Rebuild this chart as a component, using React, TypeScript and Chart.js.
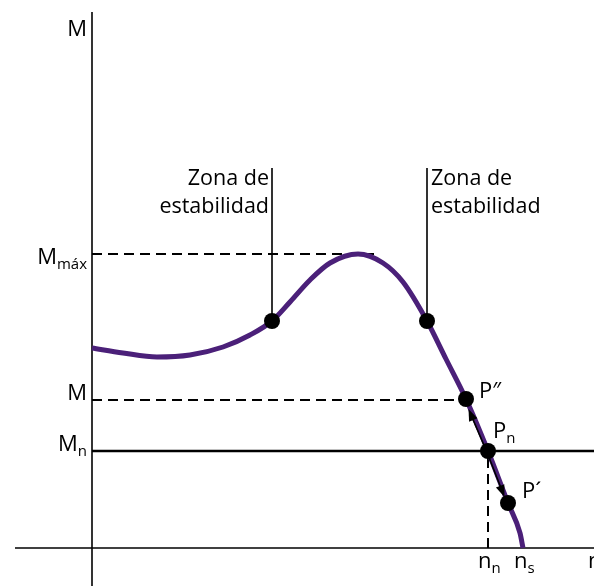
import React, { useEffect, useRef } from "react";
import { Chart, registerables } from "chart.js";

Chart.register(...registerables);

// Torque–speed curve (x = speed, y = torque), in chart units
const curveX = [0, 31, 65, 98, 131, 158, 180, 198, 218, 238, 266, 291, 311, 335, 354, 374, 396, 416, 428, 431];
const curveY = [200, 195, 191, 193, 201, 213, 227, 246, 268, 285, 294, 285, 266, 227, 189, 149, 97, 45, 15, 0];

// Reference levels
const torqueMax = 294;
const torqueM = 148;
const torqueN = 97;
const speedN = 396;
const speedS = 431;
const speedMaxLine = 288;
const axisTop = 536;
const axisLeft = -77;
const axisRight = 502;

// Marked points
const pointX = [180, 335, 374, 396, 416];
const pointY = [227, 227, 149, 97, 45];

// Stability zone marker lines
const zoneX = [180, 335];
const zoneTop = 380;

// Arrow tips (from Pn)
const arrowTipX = [378, 414];
const arrowTipY = [139, 51];

const FONT = '"Open Sans", "Noto Sans", sans-serif';
const PURPLE = "#4b2079";

export default function App() {
  const ref = useRef<HTMLCanvasElement | null>(null);

  useEffect(() => {
    const canvas = ref.current;
    if (!canvas) return;

    const seg = (x1: number, y1: number, x2: number, y2: number, extra: any = {}) => ({
      data: [
        { x: x1, y: y1 },
        { x: x2, y: y2 },
      ],
      borderColor: "#000",
      borderWidth: 1.6,
      pointRadius: 0,
      tension: 0,
      order: 3,
      ...extra,
    });

    const dash = [10, 6];

    const labelsPlugin = {
      id: "labels",
      afterDatasetsDraw(chart: any) {
        const ctx = chart.ctx as CanvasRenderingContext2D;
        const xs = chart.scales.x;
        const ys = chart.scales.y;
        const px = (v: number) => xs.getPixelForValue(v);
        const py = (v: number) => ys.getPixelForValue(v);

        // arrows from Pn
        const ox = px(pointX[3]) - 1.5;
        const oy = py(pointY[3]);
        ctx.save();
        ctx.strokeStyle = "#000";
        ctx.fillStyle = "#000";
        ctx.lineWidth = 1.6;
        for (let i = 0; i < arrowTipX.length; i++) {
          const tx = px(arrowTipX[i]) - 1.5;
          const ty = py(arrowTipY[i]);
          const ang = Math.atan2(ty - oy, tx - ox);
          const L = 12;
          const W = 4.5;
          ctx.beginPath();
          ctx.moveTo(ox, oy);
          ctx.lineTo(tx - Math.cos(ang) * L * 0.6, ty - Math.sin(ang) * L * 0.6);
          ctx.stroke();
          ctx.beginPath();
          ctx.moveTo(tx, ty);
          ctx.lineTo(
            tx - Math.cos(ang) * L - Math.sin(ang) * W,
            ty - Math.sin(ang) * L + Math.cos(ang) * W
          );
          ctx.lineTo(
            tx - Math.cos(ang) * L + Math.sin(ang) * W,
            ty - Math.sin(ang) * L - Math.cos(ang) * W
          );
          ctx.closePath();
          ctx.fill();
        }

        ctx.fillStyle = "#000";
        ctx.textBaseline = "alphabetic";

        const mainF = `22px ${FONT}`;
        const subF = `15px ${FONT}`;

        const drawSub = (main: string, sub: string, x: number, y: number, align: "left" | "right") => {
          ctx.font = mainF;
          const wm = ctx.measureText(main).width;
          ctx.font = subF;
          const ws = sub ? ctx.measureText(sub).width : 0;
          const left = align === "right" ? x - wm - ws : x;
          ctx.textAlign = "left";
          ctx.font = mainF;
          ctx.fillText(main, left, y);
          if (sub) {
            ctx.font = subF;
            ctx.fillText(sub, left + wm, y + 5);
          }
        };

        const yLabelX = px(0) - 5;
        drawSub("M", "", yLabelX, py(axisTop) + 24, "right");
        drawSub("M", "máx", yLabelX, py(torqueMax) + 10, "right");
        drawSub("M", "", yLabelX, py(torqueM), "right");
        drawSub("M", "n", yLabelX, py(torqueN), "right");

        const xLabelY = py(0) + 20;
        drawSub("n", "n", px(speedN) - 10, xLabelY, "left");
        drawSub("n", "s", px(speedS) - 9, xLabelY, "left");
        drawSub("n", "", px(axisRight) - 6, xLabelY, "left");

        drawSub("P″", "", px(pointX[2]) + 13, py(pointY[2]) - 1, "left");
        drawSub("P", "n", px(pointX[3]) + 5, py(pointY[3]) - 13, "left");
        drawSub("P´", "", px(pointX[4]) + 14, py(pointY[4]) - 5, "left");

        ctx.font = `21.5px ${FONT}`;
        const zy1 = py(zoneTop) + 17;
        const zy2 = zy1 + 28;
        ctx.textAlign = "right";
        ctx.fillText("Zona de", px(zoneX[0]) - 3, zy1);
        ctx.fillText("estabilidad", px(zoneX[0]) - 3, zy2);
        ctx.textAlign = "left";
        ctx.fillText("Zona de", px(zoneX[1]) + 4, zy1);
        ctx.fillText("estabilidad", px(zoneX[1]) + 4, zy2);
        ctx.restore();
      },
    };

    const chart = new Chart(canvas, {
      type: "line",
      data: {
        datasets: [
          {
            data: pointX.map((x, i) => ({ x, y: pointY[i] })),
            showLine: false,
            pointRadius: 8,
            pointBackgroundColor: "#000",
            pointBorderWidth: 0,
            order: 0,
          },
          {
            data: curveX.map((x, i) => ({ x, y: curveY[i] })),
            borderColor: PURPLE,
            borderWidth: 5,
            pointRadius: 0,
            cubicInterpolationMode: "monotone",
            order: 1,
          },
          seg(0, -38, 0, axisTop),
          seg(axisLeft, 0, axisRight, 0),
          seg(0, torqueMax, speedMaxLine, torqueMax, { borderDash: dash, borderWidth: 2 }),
          seg(0, torqueM, pointX[2], torqueM, { borderDash: dash, borderWidth: 2 }),
          seg(0, torqueN, axisRight, torqueN, { borderWidth: 2.5 }),
          seg(speedN, 0, speedN, torqueN, { borderDash: dash, borderWidth: 2 }),
          seg(zoneX[0], zoneTop, zoneX[0], pointY[0]),
          seg(zoneX[1], zoneTop, zoneX[1], pointY[1]),
        ] as any,
      },
      options: {
        animation: false,
        responsive: false,
        layout: { padding: 0, autoPadding: false },
        plugins: { legend: { display: false }, tooltip: { enabled: false } },
        scales: {
          x: { type: "linear", min: -92, max: 502, display: false },
          y: { type: "linear", min: -38, max: 548, display: false },
        },
      } as any,
      plugins: [labelsPlugin],
    });

    return () => chart.destroy();
  }, []);

  return (
    <div style={{ position: "absolute", left: 0, top: 0, width: 594, height: 586, background: "#fff" }}>
      <canvas ref={ref} width={594} height={586} />
    </div>
  );
}
